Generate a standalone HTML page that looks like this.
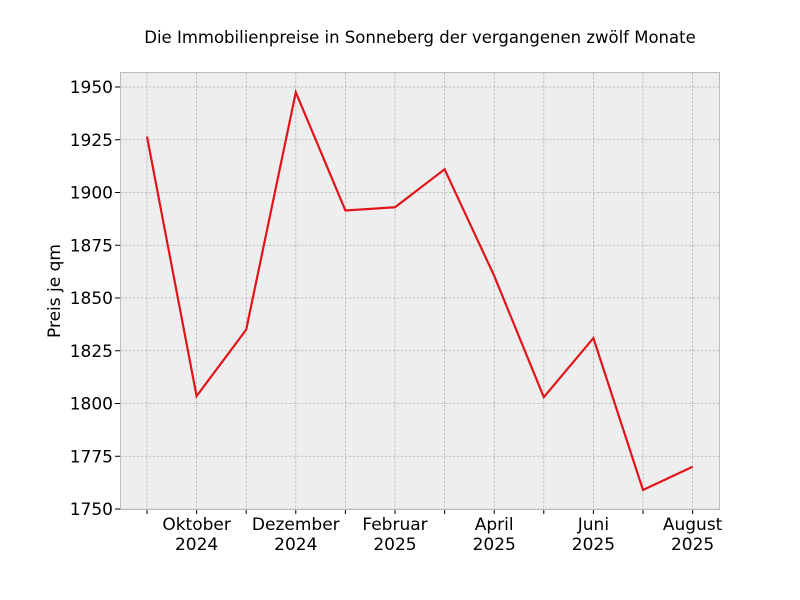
<!DOCTYPE html>
<html><head><meta charset="utf-8"><style>
body{margin:0;background:#fff;}
svg{display:block;font-family:"DejaVu Sans","Liberation Sans",sans-serif;}
</style></head><body>
<svg id="chart" width="800" height="600">
<rect x="0" y="0" width="800" height="600" fill="#fff"/>
<text x="420" y="43" text-anchor="middle" font-size="16.5" fill="#000">Die Immobilienpreise in Sonneberg der vergangenen zwölf Monate</text>
<rect x="120.5" y="72.5" width="599" height="437" fill="#eeeeee" stroke="#bcbcbc"/>
<g id="grid"></g>
<g id="axes"></g>
<path id="line" fill="none" stroke="#e2141b" stroke-width="2.2"/>
<text transform="translate(60,291) rotate(-90)" text-anchor="middle" font-size="17">Preis je qm</text>
</svg>
<script>
const months=["Sep 2024","Okt 2024","Nov 2024","Dez 2024","Jan 2025","Feb 2025","Mär 2025","Apr 2025","Mai 2025","Jun 2025","Jul 2025","Aug 2025"];
const prices=[1926.5,1803.5,1835,1947.5,1891.5,1893,1911,1860.5,1803,1831,1759,1770];
const yTicks=[1750,1775,1800,1825,1850,1875,1900,1925,1950];
const xLabels=[[1,"Oktober","2024"],[3,"Dezember","2024"],[5,"Februar","2025"],[7,"April","2025"],[9,"Juni","2025"],[11,"August","2025"]];
const NS="http://www.w3.org/2000/svg";
const x=i=>147+i*49.6;
const y=v=>509-(v-1750)*2.11;
const grid=document.getElementById('grid'),axes=document.getElementById('axes');
function mk(tag,attrs,parent){const e=document.createElementNS(NS,tag);for(const k in attrs)e.setAttribute(k,attrs[k]);parent.appendChild(e);return e;}
yTicks.forEach(v=>{
 const gl=mk('line',{x1:121,x2:719,y1:y(v),y2:y(v),stroke:'#b2b2b2','stroke-width':0.8,'stroke-dasharray':'2.5,1.5'},grid);
 
 
 mk('line',{x1:115,x2:120,y1:y(v),y2:y(v),stroke:'#000'},axes);
 const t=mk('text',{x:113,y:y(v)+6,'text-anchor':'end','font-size':17},axes);
 t.textContent=v;
 
 
});
months.forEach((m,i)=>{
 const gl=mk('line',{x1:x(i),x2:x(i),y1:73,y2:509,stroke:'#b2b2b2','stroke-width':0.8,'stroke-dasharray':'2.5,1.5'},grid);
 
 
 mk('line',{x1:x(i),x2:x(i),y1:510,y2:514,stroke:'#000'},axes);
});
xLabels.forEach(([i,a,b])=>{
 const t=mk('text',{x:x(i),y:530,'text-anchor':'middle','font-size':17},axes);
 t.textContent=a;
 
 
 const t2=mk('text',{x:x(i),y:550,'text-anchor':'middle','font-size':17},axes);
 t2.textContent=b;
 
 
});
document.getElementById('line').setAttribute('d',prices.map((v,i)=>(i?'L':'M')+x(i)+','+y(v)).join(' '));
</script>
</body></html>
